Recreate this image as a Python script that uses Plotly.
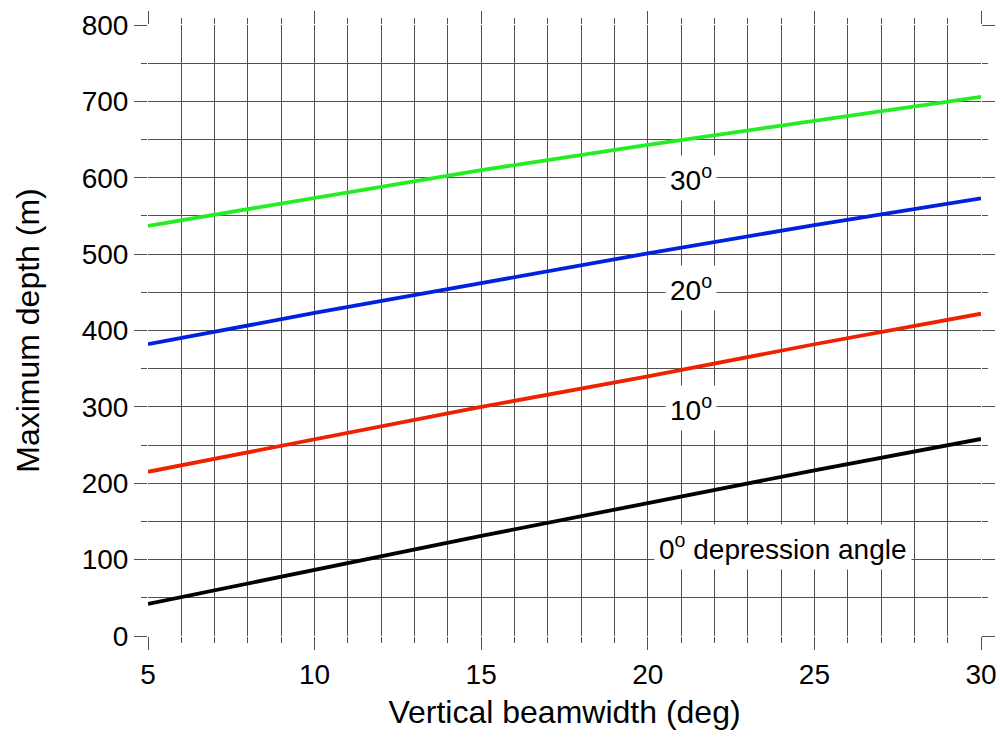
import plotly.graph_objects as go

beamwidth = [5, 10, 15, 20, 25, 30]
depth_0 = [42, 87, 131, 174, 217, 258]
depth_10 = [215, 258, 300, 340, 382, 422]
depth_20 = [382, 423, 462, 501, 538, 573]
depth_30 = [537, 574, 610, 643, 675, 706]

series = [
    ("0°", depth_0, "#000000"),
    ("10°", depth_10, "#ee2200"),
    ("20°", depth_20, "#0022dd"),
    ("30°", depth_30, "#22ee22"),
]

fig = go.Figure()
for name, ys, col in series:
    fig.add_trace(go.Scatter(x=beamwidth, y=ys, mode="lines", name=name,
                             line=dict(color=col, width=3.8)))

font_family = "Liberation Sans, Arial, sans-serif"
grid_col = "#505050"

labels = [
    (21.3, 600, "30<sup>o</sup>"),
    (21.3, 455, "20<sup>o</sup>"),
    (21.3, 298, "10<sup>o</sup>"),
    (24.05, 117, "0<sup>o</sup> depression angle"),
]
for x, y, t in labels:
    fig.add_annotation(x=x, y=y, text=t, showarrow=False, bgcolor="white",
                       font=dict(size=28, color="black", family=font_family),
                       borderpad=4)

axis_common = dict(
    showgrid=True, gridcolor=grid_col, gridwidth=1,
    zeroline=False, showline=False,
    ticks="outside", ticklen=13, tickcolor=grid_col, tickwidth=1,
    mirror="ticks", automargin=False,
    tickfont=dict(size=28, color="black", family=font_family),
)

fig.update_xaxes(
    range=[5, 30], tick0=5, dtick=5,
    minor=dict(dtick=1, showgrid=True, gridcolor=grid_col, gridwidth=1,
               ticks="outside", ticklen=6, tickcolor=grid_col),
    title=dict(text="Vertical beamwidth (deg)", standoff=12,
               font=dict(size=32, color="black", family=font_family)),
    **axis_common,
)
fig.update_yaxes(
    range=[0, 800], tick0=0, dtick=100,
    minor=dict(dtick=50, showgrid=True, gridcolor=grid_col, gridwidth=1,
               ticks="outside", ticklen=6, tickcolor=grid_col),
    title=dict(text="Maximum depth (m)", standoff=32,
               font=dict(size=32, color="black", family=font_family)),
    **axis_common,
)

fig.update_layout(
    width=1000, height=737,
    margin=dict(l=148, r=19, t=25, b=101),
    plot_bgcolor="white", paper_bgcolor="white",
    showlegend=False,
    font=dict(family=font_family),
)

fig.write_html("out.html")
